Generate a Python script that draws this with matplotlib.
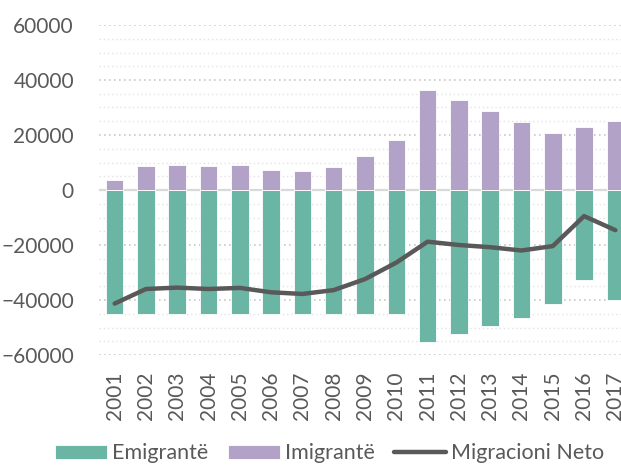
import matplotlib
matplotlib.use("Agg")
from matplotlib import pyplot as plt
from matplotlib.ticker import MultipleLocator
import numpy as np

years = [str(y) for y in range(2001, 2018)]
emigrante = [-45000, -45000, -45000, -45000, -45000, -45000, -45000, -45000, -45000,
             -45000, -55300, -52400, -49400, -46500, -41400, -32600, -40000]
imigrante = [3500, 8850, 9200, 8850, 9200, 7300, 6800, 8250, 12500,
             18200, 36400, 32600, 28600, 24700, 20700, 23000, 25000]
neto = [-41300, -36000, -35500, -36000, -35600, -37200, -37800, -36400, -32400,
        -26400, -18800, -20000, -20800, -22000, -20400, -9500, -14600]

GREEN = '#6bb5a5'
PURPLE = '#b2a2c8'
GRAY = '#595959'

plt.rcParams['font.family'] = ['Lato', 'DejaVu Sans']

fig = plt.figure(figsize=(6.21, 4.71), dpi=100)
ax = fig.add_axes([99 / 621, 1 - 355 / 471, 1 - 99 / 621, 330 / 471])

x = np.arange(len(years))
b1 = ax.bar(x, emigrante, width=0.56, color=GREEN, edgecolor='white', linewidth=0.6,
            label='Emigrantë', zorder=3)
b2 = ax.bar(x, imigrante, width=0.56, color=PURPLE, edgecolor='white', linewidth=0.6,
            label='Imigrantë', zorder=3)
ln, = ax.plot(x, neto, color=GRAY, linewidth=3.2, solid_capstyle='round',
              solid_joinstyle='round', label='Migracioni Neto', zorder=4)

ax.set_xlim(-0.5, 16.18)
ax.set_ylim(-60000, 60000)
ax.yaxis.set_major_locator(MultipleLocator(20000))
ax.yaxis.set_minor_locator(MultipleLocator(5000))
ax.set_xticks(x)
ax.set_xticklabels(years, rotation=90)

ax.grid(axis='y', which='major', color='#c8c8c8', linestyle=(0, (1, 2)), linewidth=1.2, zorder=0)
ax.grid(axis='y', which='minor', color='#e2e2e2', linestyle=(0, (1, 2)), linewidth=1.0, zorder=0)
ax.axhline(0, color='#d9d9d9', linewidth=1.6, zorder=2)

for s in ax.spines.values():
    s.set_visible(False)
ax.tick_params(axis='both', which='both', length=0, colors=GRAY, labelsize=15)
ax.tick_params(axis='y', pad=18)
ax.tick_params(axis='x', pad=12)

fig.legend([b1, b2, ln], ['Emigrantë', 'Imigrantë', 'Migracioni Neto'],
           loc='lower center', bbox_to_anchor=(0.531, -0.025), ncol=3, frameon=False,
           fontsize=15.5, labelcolor=GRAY, handlelength=2.4, handleheight=0.6,
           handletextpad=0.25, columnspacing=0.9)

fig.savefig('out.png', dpi=100)
